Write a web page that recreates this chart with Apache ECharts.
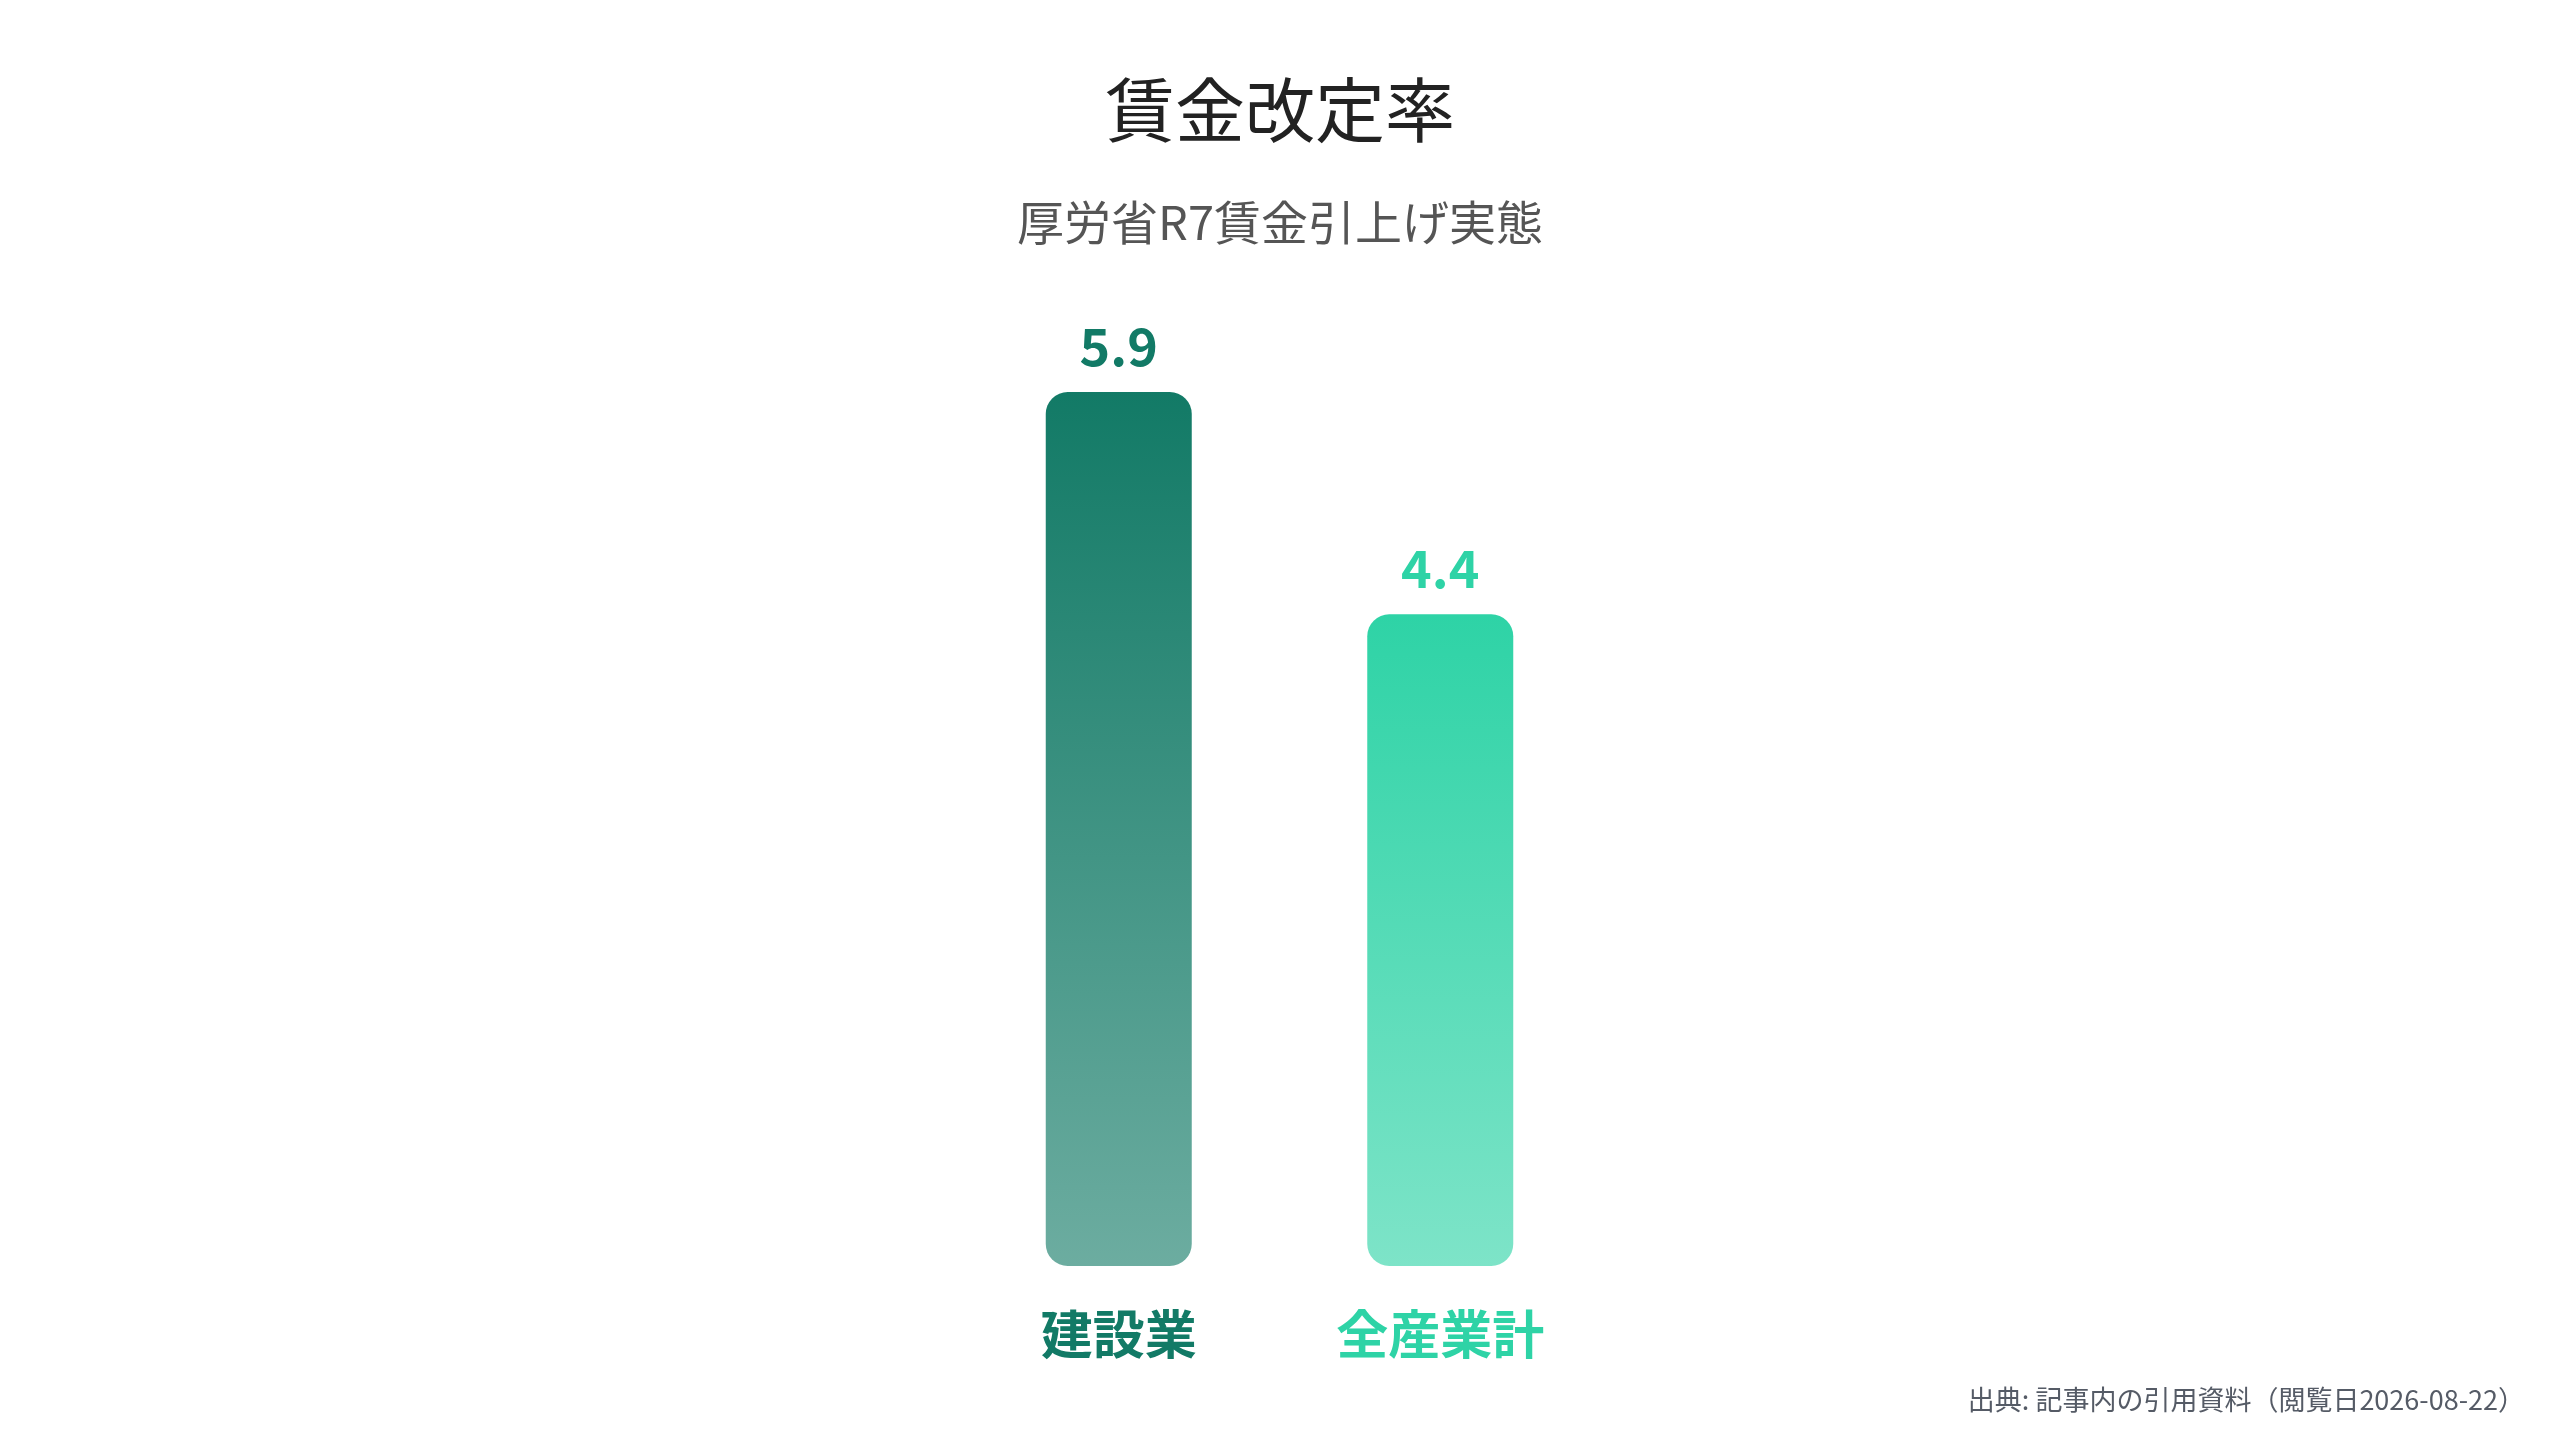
<!DOCTYPE html>
<html>
<head>
<meta charset="utf-8">
<script src="https://cdn.jsdelivr.net/npm/echarts@6/dist/echarts.min.js"></script>
<style>
  html, body { margin: 0; padding: 0; background: #fff; }
  #chart { width: 2560px; height: 1440px; }
</style>
</head>
<body>
<div id="chart"></div>
<script>
const categories = ['建設業', '全産業計']
const values = [5.9, 4.4]
const barColors = [[18, 122, 102], [46, 211, 166]]

const FONT = '"Noto Sans CJK JP", "Noto Sans", sans-serif'

const rgba = (c, a) => `rgba(${c[0]},${c[1]},${c[2]},${a})`

const chart = echarts.init(document.getElementById('chart'))

const data = values.map((v, i) => ({
  value: v,
  itemStyle: {
    borderRadius: 22,
    color: new echarts.graphic.LinearGradient(0, 0, 0, 1, [
      { offset: 0, color: rgba(barColors[i], 1) },
      { offset: 1, color: rgba(barColors[i], 0.62) }
    ])
  },
  label: { color: rgba(barColors[i], 1) }
}))

chart.setOption({
  backgroundColor: '#ffffff',
  title: [{
    text: '賃金改定率',
    left: 'center',
    top: 70,
    textStyle: { fontFamily: FONT, fontSize: 70, fontWeight: 'normal', color: '#222222' }
  }, {
    text: '厚労省R7賃金引上げ実態',
    left: 'center',
    top: 194,
    textStyle: { fontFamily: FONT, fontSize: 47, fontWeight: 'normal', color: '#555555' }
  }, {
    text: '出典: 記事内の引用資料（閲覧日2026-08-22）',
    right: 30,
    top: 1381,
    textStyle: { fontFamily: FONT, fontSize: 27, fontWeight: 'normal', color: '#555b66' }
  }],
  grid: { left: 958, right: 959, top: 392, bottom: 174 },
  xAxis: {
    type: 'category',
    data: categories,
    axisLine: { show: false },
    axisTick: { show: false },
    axisLabel: {
      margin: 42,
      fontFamily: FONT,
      fontSize: 52,
      fontWeight: 'bold',
      color: (val, idx) => rgba(barColors[idx], 1)
    }
  },
  yAxis: {
    type: 'value',
    min: 0,
    max: 5.9,
    show: false,
    splitLine: { show: false }
  },
  series: [{
    type: 'bar',
    data: data,
    barWidth: 146,
    label: {
      show: true,
      position: 'top',
      distance: 20,
      fontFamily: FONT,
      fontSize: 52,
      fontWeight: 'bold',
      formatter: p => p.value.toFixed(1)
    }
  }]
})
</script>
</body>
</html>
